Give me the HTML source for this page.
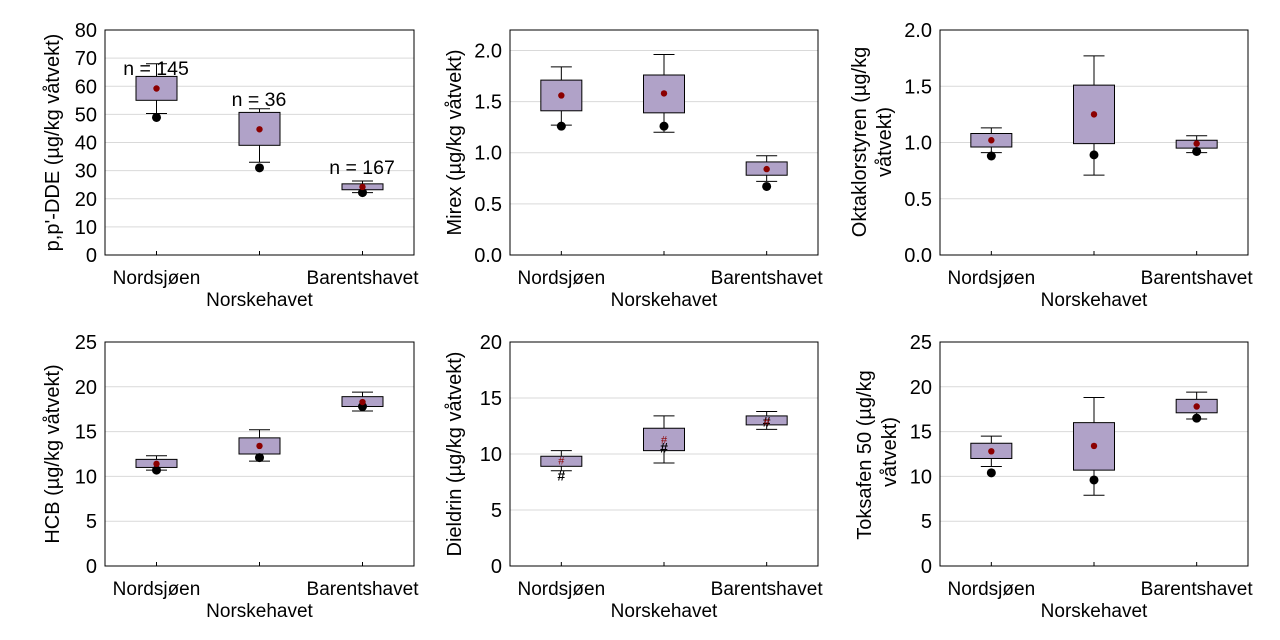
<!DOCTYPE html>
<html><head><meta charset="utf-8"><style>body{margin:0;background:#fff}svg{display:block}text{font-family:"Liberation Sans",sans-serif;fill:#000}</style></head>
<body>
<svg id="s" width="1280" height="640" xmlns="http://www.w3.org/2000/svg"></svg>
<script>
const panels=[
{x0:105,x1:414,y0:30,y1:255,max:80,step:10,dec:0,lab:["p,p'-DDE (µg/kg våtvekt)"],lx:59,
 d:[[68,55,63.5,50.3,48.9,59.2],[52,39,50.7,33,31,44.7],[26.3,23.2,25.3,22.2,22.2,24.2]],
 n:[["n = 145",156,75],["n = 36",259,106],["n = 167",362,174]]},
{x0:510,x1:818,y0:30,y1:255,max:2.2,step:0.5,dec:1,lab:["Mirex (µg/kg våtvekt)"],lx:461,
 d:[[1.84,1.41,1.71,1.27,1.26,1.56],[1.96,1.39,1.76,1.2,1.26,1.58],[0.97,0.78,0.91,0.72,0.67,0.84]]},
{x0:940,x1:1248,y0:30,y1:255,max:2.0,step:0.5,dec:1,lab:["Oktaklorstyren (µg/kg","våtvekt)"],l1:[866,142],l2:[891,142],
 d:[[1.13,0.96,1.08,0.91,0.88,1.02],[1.77,0.99,1.51,0.71,0.89,1.25],[1.06,0.95,1.02,0.91,0.92,0.99]]},
{x0:105,x1:414,y0:342,y1:566,max:25,step:5,dec:0,lab:["HCB (µg/kg våtvekt)"],lx:59,
 d:[[12.3,11.0,11.9,10.7,10.7,11.4],[15.2,12.5,14.3,11.7,12.1,13.4],[19.4,17.8,18.9,17.3,17.8,18.3]]},
{x0:510,x1:818,y0:342,y1:566,max:20,step:5,dec:0,lab:["Dieldrin (µg/kg våtvekt)"],lx:461,hash:true,
 d:[[10.3,8.9,9.8,8.5,8.1,9.4],[13.4,10.3,12.3,9.2,10.6,11.3],[13.8,12.6,13.4,12.2,12.9,12.9]]},
{x0:940,x1:1248,y0:342,y1:566,max:25,step:5,dec:0,lab:["Toksafen 50 (µg/kg","våtvekt)"],l1:[871,455],l2:[896,452],
 d:[[14.5,12.0,13.7,11.1,10.4,12.8],[18.8,10.7,16.0,7.9,9.6,13.4],[19.4,17.1,18.6,16.4,16.5,17.8]]}
];
let o='';
for(const p of panels){
 const Y=v=>p.y1-(v/p.max)*(p.y1-p.y0);
 const w=p.x1-p.x0, cx=[p.x0+w/6,p.x0+w/2,p.x0+5*w/6];
 for(let v=0;v<=p.max+1e-9;v+=p.step){
  const y=Y(v);
  if(v>0&&Math.abs(y-p.y0)>1)o+=`<line x1="${p.x0}" x2="${p.x1}" y1="${y}" y2="${y}" stroke="#d9d9d9"/>`;
  o+=`<text x="${p.x0-8}" y="${y+7}" font-size="20" text-anchor="end">${v.toFixed(p.dec)}</text>`;
 }
 o+=`<rect x="${p.x0}" y="${p.y0}" width="${w}" height="${p.y1-p.y0}" fill="none" stroke="#000"/>`;
 cx.forEach(c=>o+=`<line x1="${c}" x2="${c}" y1="${p.y1}" y2="${p.y1-4}" stroke="#000"/>`);
 const yc=(p.y0+p.y1)/2;
 if(p.lab.length==1)o+=`<text transform="translate(${p.lx},${yc}) rotate(-90)" font-size="20" text-anchor="middle">${p.lab[0]}</text>`;
 else{o+=`<text transform="translate(${p.l1[0]},${p.l1[1]}) rotate(-90)" font-size="20" text-anchor="middle">${p.lab[0]}</text>`;
  o+=`<text transform="translate(${p.l2[0]},${p.l2[1]}) rotate(-90)" font-size="20" text-anchor="middle">${p.lab[1]}</text>`;}
 o+=`<text x="${cx[0]}" y="${p.y1+29}" font-size="19" text-anchor="middle">Nordsjøen</text>`;
 o+=`<text x="${cx[1]}" y="${p.y1+51}" font-size="19" text-anchor="middle">Norskehavet</text>`;
 o+=`<text x="${cx[2]}" y="${p.y1+29}" font-size="19" text-anchor="middle">Barentshavet</text>`;
 p.d.forEach((d,i)=>{const c=cx[i];const [hi,b0,b1,lo,md,mn]=d;
  o+=`<line x1="${c}" x2="${c}" y1="${Y(hi)}" y2="${Y(lo)}" stroke="#000"/>`;
  o+=`<line x1="${c-10.5}" x2="${c+10.5}" y1="${Y(hi)}" y2="${Y(hi)}" stroke="#000"/>`;
  o+=`<line x1="${c-10.5}" x2="${c+10.5}" y1="${Y(lo)}" y2="${Y(lo)}" stroke="#000"/>`;
  o+=`<rect x="${c-20.5}" y="${Y(b1)}" width="41" height="${Y(b0)-Y(b1)}" fill="#b0a2c8" stroke="#000"/>`;
  if(p.hash){o+=`<text x="${c}" y="${Y(md)+5}" font-size="14" text-anchor="middle" font-weight="bold">#</text><text x="${c}" y="${Y(mn)+4}" font-size="11" text-anchor="middle" style="fill:#8b0000">#</text>`;}
  else{o+=`<circle cx="${c}" cy="${Y(md)}" r="4.5" fill="#000"/><circle cx="${c}" cy="${Y(mn)}" r="3.2" fill="#8b0000"/>`;}
 });
 if(p.n)p.n.forEach(n=>o+=`<text x="${n[1]}" y="${n[2]}" font-size="19.5" text-anchor="middle">${n[0]}</text>`);
}
document.getElementById('s').innerHTML=o;
</script>
</body></html>
